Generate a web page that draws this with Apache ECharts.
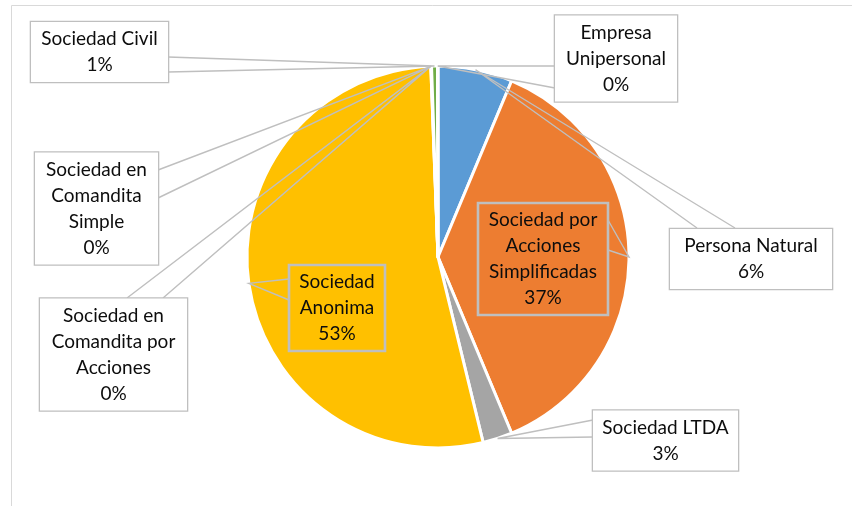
<!DOCTYPE html>
<html>
<head>
<meta charset="utf-8">
<script src="https://cdn.jsdelivr.net/npm/echarts@6/dist/echarts.min.js"></script>
<style>
  html, body { margin: 0; padding: 0; background: #fff; }
  #chart { width: 852px; height: 506px; }
</style>
</head>
<body>
<div id="chart"></div>
<script>
// categories, in clockwise order from 12 o'clock
var names = ['Persona Natural', 'Sociedad por Acciones Simplificadas', 'Sociedad LTDA', 'Sociedad Anonima',
  'Sociedad en Comandita por Acciones', 'Sociedad en Comandita Simple', 'Sociedad Civil', 'Empresa Unipersonal'];
// how each name breaks inside its callout box
var labelText = ['Persona Natural', 'Sociedad por\nAcciones\nSimplificadas', 'Sociedad LTDA', 'Sociedad\nAnonima',
  'Sociedad en\nComandita por\nAcciones', 'Sociedad en\nComandita\nSimple', 'Sociedad Civil', 'Empresa\nUnipersonal'];
// share (%)
var values = [6.3, 37.4, 2.5, 53.2, 0.03, 0.03, 0.5, 0.04];
var colors = ['#5b9bd5', '#ed7d31', '#a5a5a5', '#ffc000', '#4472c4', '#255e91', '#70ad47', '#9e480e'];

// callout boxes: left, top, width, height, side of the pointer, pointer base offsets
var boxes = [
  [670, 228, 162, 62, 'top', 27, 65],
  [478, 203, 130, 112, 'right', 17, 47],
  [593, 410, 145, 61, 'left', 10, 27],
  [289, 265, 96, 86, 'left', 14, 35],
  [40, 298, 147, 113, 'top', 87, 123],
  [35, 152, 123, 113, 'right', 18, 46],
  [31, 22, 137, 60, 'right', 35, 50],
  [555, 15, 122, 87, 'left', 51, 73]
];
var insideIdx = [1, 3]; // boxes drawn over their own slice (no white fill)

var myChart = echarts.init(document.getElementById('chart'), null, { renderer: 'canvas' });

var pieCenter = [438, 257];
var pieRadius = 191;

// slices
var sliceData = names.map(function (n, i) {
  return { name: n, value: values[i], itemStyle: { color: colors[i] } };
});

// same data again, invisible sectors on top: carries the callouts so the
// pointer lines are drawn over the slices like in Excel
var calloutData = names.map(function (n, i) {
  return {
    name: n,
    value: values[i],
    label: {
      width: boxes[i][2],
      backgroundColor: insideIdx.indexOf(i) >= 0 ? 'transparent' : '#fff'
    }
  };
});

var option = {
  animation: false,
  graphic: [{
    type: 'rect', silent: true, z: -1,
    shape: { x: 11.5, y: 5.5, width: 900, height: 600 },
    style: { fill: 'none', stroke: '#d9d9d9', lineWidth: 1 }
  }],
  series: [{
    type: 'pie',
    z: 2,
    center: pieCenter,
    radius: pieRadius,
    startAngle: 90,
    clockwise: true,
    emphasis: { disabled: true },
    itemStyle: { borderColor: '#fff', borderWidth: 3 },
    label: { show: false },
    labelLine: { show: false },
    data: sliceData
  }, {
    type: 'pie',
    z: 3,
    silent: true,
    center: pieCenter,
    radius: pieRadius,
    startAngle: 90,
    clockwise: true,
    avoidLabelOverlap: false,
    emphasis: { disabled: true },
    itemStyle: { color: 'rgba(0,0,0,0)', borderWidth: 0 },
    label: {
      show: true,
      position: 'outside',
      overflow: 'none',
      fontFamily: 'Lato',
      fontSize: 19,
      lineHeight: 26,
      color: '#0d0d0d',
      align: 'center',
      borderColor: '#bfbfbf',
      borderWidth: 1.3,
      padding: [4, 0],
      formatter: function (p) {
        return labelText[p.dataIndex] + '\n' + Math.round(p.percent) + '%';
      }
    },
    labelLine: {
      show: true, length: 10, length2: 10,
      lineStyle: { color: '#bfbfbf', width: 1.4 }
    },
    labelLayout: function (p) {
      var b = boxes[p.dataIndex];
      var x = b[0], y = b[1], w = b[2], h = b[3];
      var p1, p2;
      if (b[4] === 'top') { p1 = [x + b[5], y]; p2 = [x + b[6], y]; }
      else if (b[4] === 'left') { p1 = [x, y + b[5]]; p2 = [x, y + b[6]]; }
      else { p1 = [x + w, y + b[5]]; p2 = [x + w, y + b[6]]; }
      var res = { x: x + w / 2, y: y + h / 2, align: 'center', verticalAlign: 'middle' };
      if (p.labelLinePoints) {
        res.labelLinePoints = [p1, p.labelLinePoints[0], p2];
      }
      return res;
    },
    data: calloutData
  }]
};

myChart.setOption(option);
</script>
</body>
</html>
